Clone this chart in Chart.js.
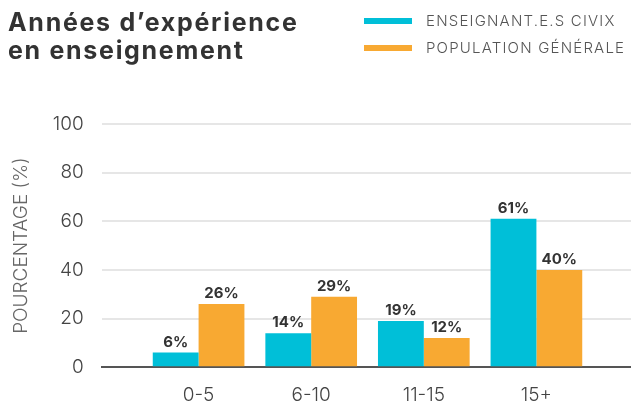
<!DOCTYPE html>
<html lang="fr">
<head>
<meta charset="utf-8">
<title>Années d'expérience en enseignement</title>
<script src="https://cdn.jsdelivr.net/npm/chart.js@4/dist/chart.umd.min.js"></script>
<style>
  body { margin: 0; background: #fff; font-family: 'Inter', 'DejaVu Sans', sans-serif; }
  #wrap { position: relative; width: 631px; height: 402px; overflow: hidden; }
  #title { position: absolute; left: 8px; top: 8px; font-weight: 700; font-size: 25px; line-height: 28px; color: #333; letter-spacing: 1.7px; }
  #legend { position: absolute; left: 364px; top: 7px; }
  .item { display: flex; align-items: center; height: 27px; font-size: 15px; color: #555; font-weight: 300; letter-spacing: 1.2px; }
  .swatch { width: 48px; height: 6px; margin-right: 14px; }
  canvas { position: absolute; left: 0; top: 0; }
</style>
</head>
<body>
<div id="wrap">
  <canvas id="chart" width="631" height="416"></canvas>
  <div id="title">Années d’expérience<br>en enseignement</div>
  <div id="legend"></div>
</div>
<script>
const categories = ['0-5', '6-10', '11-15', '15+'];
const civixValues = [6, 14, 19, 61];
const populationValues = [26, 29, 12, 40];
const seriesNames = ['ENSEIGNANT.E.S CIVIX', 'POPULATION GÉNÉRALE'];
const seriesColors = ['#00bfd8', '#f8a932'];
const yTicks = [0, 20, 40, 60, 80, 100];

// legend in the top right corner
const legend = document.getElementById('legend');
seriesNames.forEach((name, i) => {
    const item = document.createElement('div');
    item.className = 'item';
    item.innerHTML = `<span class="swatch" style="background:${seriesColors[i]}"></span>${name}`;
    legend.appendChild(item);
});

// percentage above each bar
const valueLabels = {
    id: 'valueLabels',
    afterDatasetsDraw(chart) {
        const ctx = chart.ctx;
        ctx.save();
        ctx.font = '700 15px Inter, "DejaVu Sans", sans-serif';
        ctx.fillStyle = '#333';
        ctx.textAlign = 'center';
        ctx.textBaseline = 'alphabetic';
        chart.data.datasets.forEach((ds, di) => {
            chart.getDatasetMeta(di).data.forEach((bar, i) => {
                ctx.fillText(`${ds.data[i].y}%`, bar.x, bar.y - 6);
            });
        });
        ctx.restore();
    }
};

const toPoints = values => values.map((v, i) => ({ x: i, y: v }));
const tickFont = { family: 'Inter', size: 19, weight: 300 };

new Chart(document.getElementById('chart'), {
    type: 'bar',
    data: {
        datasets: [
            { label: seriesNames[0], data: toPoints(civixValues), backgroundColor: seriesColors[0] },
            { label: seriesNames[1], data: toPoints(populationValues), backgroundColor: seriesColors[1] }
        ]
    },
    options: {
        responsive: false,
        animation: false,
        categoryPercentage: 0.814,
        barPercentage: 1,
        layout: { padding: { left: 10, top: 124, right: 0, bottom: 0 } },
        scales: {
            x: {
                type: 'linear',
                offset: false,
                min: -0.86,
                max: 3.84,
                afterBuildTicks: scale => { scale.ticks = categories.map((_, i) => ({ value: i })); },
                ticks: {
                    callback: v => categories[v],
                    color: '#444',
                    font: tickFont,
                    padding: 9,
                    maxRotation: 0
                },
                grid: { display: false },
                border: { color: '#555', width: 2 }
            },
            y: {
                min: 0,
                max: 100,
                afterBuildTicks: scale => {
                    scale.ticks = [];
                    for (let v = 0; v <= 100; v += 10) scale.ticks.push({ value: v });
                },
                ticks: {
                    callback: v => yTicks.includes(v) ? v : '',
                    color: '#444',
                    font: tickFont,
                    padding: 18
                },
                grid: {
                    color: ctx => ctx.tick && ctx.tick.value === 0 ? 'rgba(0,0,0,0)' : '#e6e6e6',
                    lineWidth: 2,
                    drawTicks: false
                },
                border: { display: false },
                title: {
                    display: true,
                    text: 'POURCENTAGE (%)',
                    color: '#666',
                    font: tickFont,
                    padding: { top: 0, bottom: 2 }
                }
            }
        },
        plugins: {
            legend: { display: false },
            title: { display: false },
            tooltip: { enabled: false }
        }
    },
    plugins: [valueLabels]
});
</script>
</body>
</html>
